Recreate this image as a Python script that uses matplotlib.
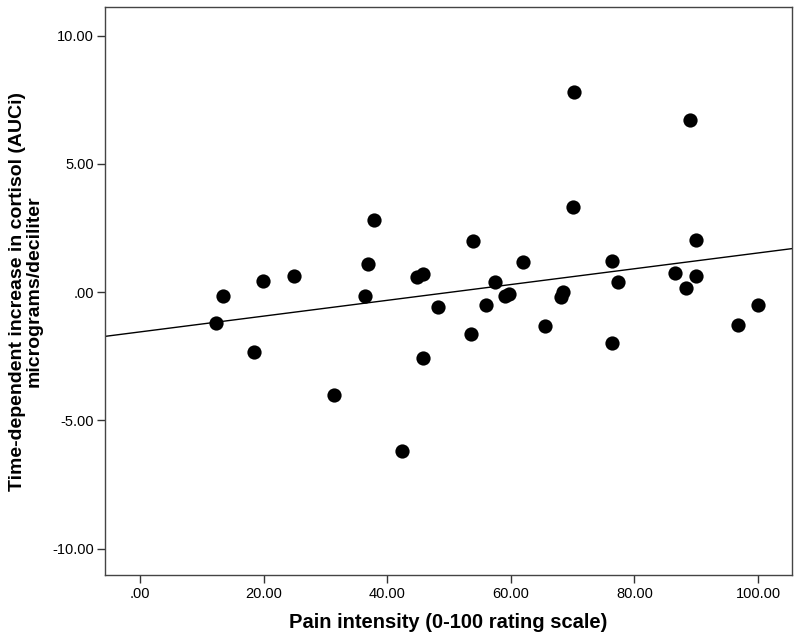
import numpy as np
import matplotlib.pyplot as plt

plt.rcParams['font.family'] = ['Liberation Sans', 'DejaVu Sans']

# pain intensity (0-100) and cortisol AUCi values
pain = [12.35, 13.49, 18.46, 19.91, 24.93, 31.46, 36.38, 36.91, 37.93, 42.46,
        44.80, 45.77, 45.86, 48.20, 53.59, 53.91, 55.97, 57.42, 59.14, 59.69,
        61.96, 65.61, 68.20, 68.53, 69.99, 70.31, 76.41, 76.36, 77.43, 86.56,
        88.39, 88.93, 89.90, 89.90, 96.81, 99.94]
cortisol = [-1.21, -0.14, -2.34, 0.43, 0.62, -4.03, -0.17, 1.11, 2.82, -6.21,
            0.58, 0.70, -2.57, -0.60, -1.63, 2.00, -0.52, 0.40, -0.14, -0.08,
            1.17, -1.33, -0.21, 0.02, 3.31, 7.81, 1.21, -2.00, 0.41, 0.75,
            0.16, 6.71, 2.03, 0.64, -1.30, -0.52]

xticks = [0, 20, 40, 60, 80, 100]
yticks = [-10, -5, 0, 5, 10]
xlim = (-5.6, 105.5)
ylim = (-11.05, 11.1)

fig = plt.figure(figsize=(8, 6.43), dpi=100)
ax = fig.add_axes([0.1316, 0.105, 0.8584, 0.8836])

ax.scatter(pain, cortisol, s=105, color='black', linewidths=0, zorder=3)

# linear fit line across the whole x range
slope, intercept = np.polyfit(pain, cortisol, 1)
xs = np.array(xlim)
ax.plot(xs, slope * xs + intercept, color='black', lw=1.0, zorder=2)

ax.set_xlim(*xlim)
ax.set_ylim(*ylim)
ax.set_xticks(xticks)
ax.set_yticks(yticks)
ax.set_xticklabels(['.00' if v == 0 else '%.2f' % v for v in xticks])
ax.set_yticklabels(['.00' if v == 0 else '%.2f' % v for v in yticks])
ax.tick_params(direction='out', length=6, width=1, color='#333333',
               labelsize=10.5, pad=2)

for sp in ax.spines.values():
    sp.set_color('#444444')
    sp.set_linewidth(1.0)

ax.set_xlabel('Pain intensity (0-100 rating scale)', fontsize=14.5,
              fontweight='bold', labelpad=9)
ax.set_ylabel('Time-dependent increase in cortisol (AUCi)\nmicrograms/deciliter',
              fontsize=14, fontweight='bold', labelpad=7, linespacing=1.0)

fig.savefig('out.png', dpi=100)
